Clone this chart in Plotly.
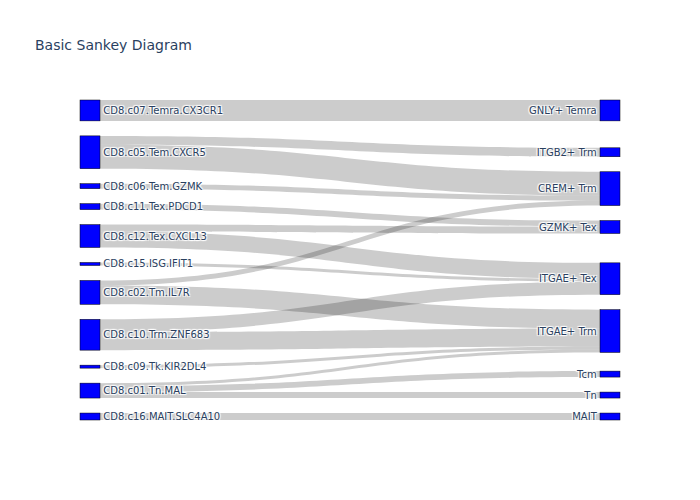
import plotly.graph_objects as go

# node labels: left column (clusters) then right column (subtypes)
clusters = ["CD8.c07.Temra.CX3CR1", "CD8.c05.Tem.CXCR5", "CD8.c06.Tem.GZMK", "CD8.c11.Tex.PDCD1",
            "CD8.c12.Tex.CXCL13", "CD8.c15.ISG.IFIT1", "CD8.c02.Tm.IL7R", "CD8.c10.Trm.ZNF683",
            "CD8.c09.Tk.KIR2DL4", "CD8.c01.Tn.MAL", "CD8.c16.MAIT.SLC4A10"]
subtypes = ["GNLY+ Temra", "ITGB2+ Trm", "CREM+ Trm", "GZMK+ Tex", "ITGAE+ Tex",
            "ITGAE+ Trm", "Tcm", "Tn", "MAIT"]

# links (source cluster -> target subtype, value)
src = ["CD8.c07.Temra.CX3CR1", "CD8.c05.Tem.CXCR5", "CD8.c05.Tem.CXCR5", "CD8.c06.Tem.GZMK",
       "CD8.c11.Tex.PDCD1", "CD8.c12.Tex.CXCL13", "CD8.c12.Tex.CXCL13", "CD8.c15.ISG.IFIT1",
       "CD8.c02.Tm.IL7R", "CD8.c02.Tm.IL7R", "CD8.c10.Trm.ZNF683", "CD8.c10.Trm.ZNF683",
       "CD8.c09.Tk.KIR2DL4", "CD8.c01.Tn.MAL", "CD8.c01.Tn.MAL", "CD8.c01.Tn.MAL",
       "CD8.c16.MAIT.SLC4A10"]
tgt = ["GNLY+ Temra", "ITGB2+ Trm", "CREM+ Trm", "CREM+ Trm",
       "GZMK+ Tex", "GZMK+ Tex", "ITGAE+ Tex", "ITGAE+ Tex",
       "CREM+ Trm", "ITGAE+ Trm", "ITGAE+ Tex", "ITGAE+ Trm",
       "ITGAE+ Trm", "ITGAE+ Trm", "Tcm", "Tn",
       "MAIT"]
vals = [21, 9, 24, 5, 6, 7, 16, 3, 5, 19, 13, 18, 3, 3, 6, 6, 7]

labels = clusters + subtypes
idx = {name: i for i, name in enumerate(labels)}

fig = go.Figure(go.Sankey(
    node=dict(label=labels, color="blue", pad=15, thickness=20,
              line=dict(color="black", width=0.5)),
    link=dict(source=[idx[s] for s in src], target=[idx[t] for t in tgt], value=vals),
))
fig.update_layout(title_text="Basic Sankey Diagram", width=700, height=500,
                  font=dict(family="Verdana, DejaVu Sans", size=10))
# drop the default page margin so the 700x500 figure fills the window
fig.write_html("out.html", config={"displayModeBar": False},
               post_script="document.body.style.margin='0';")
